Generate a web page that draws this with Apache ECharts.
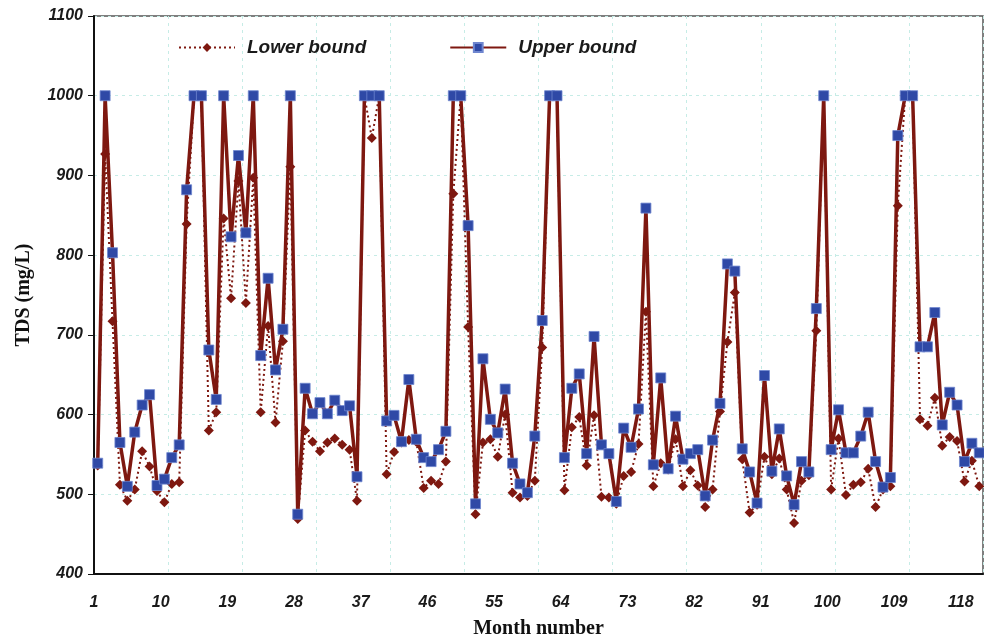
<!DOCTYPE html>
<html>
<head>
<meta charset="utf-8">
<script src="https://cdn.jsdelivr.net/npm/echarts@6/dist/echarts.min.js"></script>
<style>
html, body { margin: 0; padding: 0; background: #fff; }
#chart { width: 984px; height: 644px; }
</style>
</head>
<body>
<div id="chart"></div>
<script>
// month numbers 1..120
var months = [];
for (var m = 1; m <= 120; m++) months.push(String(m));

// TDS lower bound (mg/L)
var lowerBound = [
  536, 927, 717, 512, 492, 506, 554, 535, 504, 490,
  513, 515, 839, 1000, 1000, 580, 603, 846, 746, 893,
  740, 897, 603, 711, 590, 692, 911, 469, 580, 566,
  554, 565, 570, 562, 556, 492, 1000, 947, 1000, 525,
  553, 565, 568, 566, 508, 517, 513, 541, 877, 1000,
  710, 475, 565, 569, 547, 600, 502, 496, 498, 517,
  684, 1000, 1000, 505, 584, 597, 536, 599, 497, 496,
  488, 523, 528, 563, 729, 510, 539, 531, 569, 510,
  530, 511, 484, 506, 604, 691, 753, 544, 477, 487,
  547, 525, 545, 506, 464, 517, 524, 705, 1000, 506,
  570, 499, 512, 515, 532, 484, 506, 510, 862, 1000,
  1000, 594, 586, 621, 561, 572, 567, 516, 542, 510
];

// TDS upper bound (mg/L)
var upperBound = [
  539, 1000, 803, 565, 510, 578, 612, 625, 511, 519,
  546, 562, 882, 1000, 1000, 681, 619, 1000, 823, 925,
  828, 1000, 674, 771, 656, 707, 1000, 475, 633, 601,
  615, 601, 618, 605, 611, 522, 1000, 1000, 1000, 592,
  599, 566, 644, 569, 546, 541, 556, 579, 1000, 1000,
  837, 488, 670, 594, 577, 632, 539, 513, 502, 573,
  718, 1000, 1000, 546, 633, 651, 551, 698, 562, 551,
  491, 583, 559, 607, 859, 537, 646, 532, 598, 544,
  551, 556, 498, 568, 614, 789, 780, 557, 528, 489,
  649, 529, 582, 523, 487, 541, 528, 733, 1000, 556,
  606, 552, 552, 573, 603, 541, 509, 521, 950, 1000,
  1000, 685, 685, 728, 587, 628, 612, 541, 564, 552
];

// x tick labels: 1, 10, 19, ... 118 (every 9 months)
var xTickLabels = [1, 10, 19, 28, 37, 46, 55, 64, 73, 82, 91, 100, 109, 118];

var lineColor = '#7e1810';
var squareColor = '#2f49a6';
var gridColor = '#c6ece6';
var labelFont = { fontFamily: 'Liberation Sans', fontWeight: 'bold', fontStyle: 'italic', fontSize: 16, color: '#1a1a1a' };

var chart = echarts.init(document.getElementById('chart'));
chart.setOption({
  animation: false,
  backgroundColor: '#fff',
  grid: { left: 94, right: 1, top: 16, bottom: 68, show: true, borderColor: '#555', borderWidth: 1.5 },
  legend: {
    left: 178, top: 38, padding: 0,
    itemWidth: 56, itemHeight: 11, itemGap: 83,
    textStyle: { fontFamily: 'Liberation Sans', fontWeight: 'bold', fontStyle: 'italic', fontSize: 19, color: '#1a1a1a', padding: [0, 0, 0, 7] },
    data: ['Lower bound', 'Upper bound']
  },
  xAxis: [{
    type: 'category',
    data: months,
    boundaryGap: true,
    name: 'Month number',
    nameLocation: 'middle',
    nameGap: 45,
    nameTextStyle: { fontFamily: 'Liberation Serif', fontWeight: 'bold', fontSize: 20, color: '#111' },
    axisLine: { lineStyle: { color: '#111', width: 2 } },
    axisTick: { interval: 9, length: 6, lineStyle: { color: '#111', width: 1 } },
    axisLabel: { show: false },
    splitLine: { show: true, interval: 9, lineStyle: { color: gridColor, type: [3, 4], width: 1 } }
  }, {
    // label-only axis: month n sits at the left edge of its slot (n - 1)
    type: 'value',
    position: 'bottom',
    min: 0, max: 120,
    axisLine: { show: false },
    axisTick: { show: false },
    splitLine: { show: false },
    axisLabel: Object.assign({
      margin: 21,
      customValues: xTickLabels.map(function (n) { return n - 1; }),
      formatter: function (v) { return String(v + 1); }
    }, labelFont)
  }],
  yAxis: {
    type: 'value',
    min: 400, max: 1100, interval: 100,
    name: 'TDS (mg/L)',
    nameLocation: 'middle',
    nameGap: 60,
    nameTextStyle: { fontFamily: 'Liberation Serif', fontWeight: 'bold', fontSize: 20, color: '#111' },
    axisLine: { show: true, lineStyle: { color: '#111', width: 2 } },
    axisTick: { show: true, length: 6, lineStyle: { color: '#111', width: 1 } },
    axisLabel: Object.assign({ margin: 11, formatter: function (v) { return String(v); } }, labelFont),
    splitLine: { show: true, lineStyle: { color: gridColor, type: [3, 4], width: 1 } }
  },
  series: [{
    name: 'Lower bound',
    type: 'line',
    xAxisIndex: 0,
    data: lowerBound,
    symbol: 'diamond',
    symbolSize: 10,
    showSymbol: true,
    showAllSymbol: true,
    itemStyle: { color: lineColor },
    lineStyle: { color: lineColor, width: 2, type: [2, 3] },
    z: 2
  }, {
    name: 'Upper bound',
    type: 'line',
    xAxisIndex: 0,
    data: upperBound,
    symbol: 'rect',
    symbolSize: 10,
    showSymbol: true,
    showAllSymbol: true,
    itemStyle: { color: squareColor, borderColor: '#6f86cf', borderWidth: 0.8 },
    lineStyle: { color: lineColor, width: 3.5 },
    z: 3
  }]
});
</script>
</body>
</html>
